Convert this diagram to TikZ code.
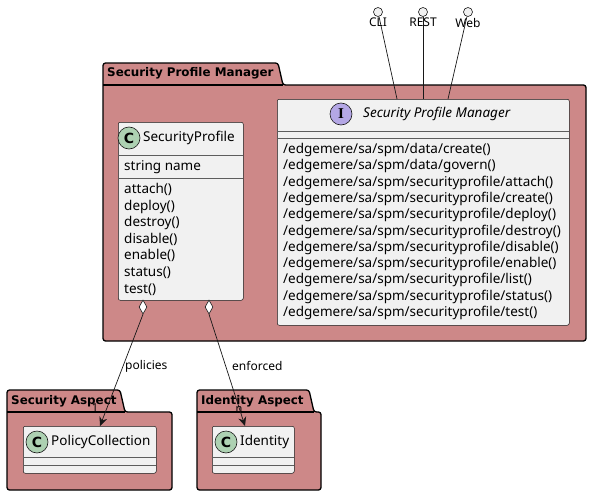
\documentclass[tikz,border=0pt]{standalone}
\usepackage{fontspec}
\setmainfont{Noto Sans}
\newfontfamily\circfont{Liberation Serif}
\newfontfamily\titlefont{DejaVu Sans}
\usetikzlibrary{shapes.geometric,arrows.meta}
\definecolor{pkgfill}{RGB}{205,136,136}
\definecolor{classfill}{RGB}{241,241,241}
\definecolor{classline}{RGB}{24,24,24}
\definecolor{cfill}{RGB}{173,209,178}
\definecolor{ifill}{RGB}{180,167,229}
\begin{document}
\begin{tikzpicture}[x=1pt,y=-1pt,
    pkg/.style={draw=black,fill=pkgfill,line width=1.3pt,rounded corners=2.5pt,line join=round},
    pkgtitle/.style={anchor=west,inner sep=0pt,font=\fontsize{11.9}{14}\selectfont\titlefont\bfseries},
    classbox/.style={draw=classline,fill=classfill,line width=0.5pt,rounded corners=2pt,anchor=north west,inner sep=0pt},
    sepline/.style={draw=classline!70,line width=0.6pt},
    member/.style={anchor=west,inner sep=0pt,text height=9.5pt,text depth=2.5pt,font=\fontsize{13.5}{15}\selectfont},
    small/.style={inner sep=0pt,font=\fontsize{12}{14}\selectfont},
    ccirc/.style={circle,draw=classline,line width=0.6pt,fill=cfill,minimum size=22pt,inner sep=0pt,font=\fontsize{14}{14}\selectfont\titlefont\bfseries},
    icirc/.style={ccirc,fill=ifill,font=\fontsize{15}{15}\selectfont\circfont\bfseries},
    lolli/.style={circle,draw=classline,line width=0.6pt,fill=classfill,minimum size=9pt,inner sep=0pt},
    agg/.style={diamond,draw=classline,line width=0.6pt,fill=white,minimum width=8pt,minimum height=14pt,inner sep=0pt},
    link/.style={draw=classline,line width=0.7pt},
    assoc/.style={link,-{Stealth[length=9pt,width=8pt,inset=3pt]}}]
    \useasboundingbox[fill=white] (0,0) rectangle (591,495);
    %% packages
    \draw[pkg] (103,341) -- (103,63) -- (278,63) -- (283,85) -- (586,85) -- (586,341) -- cycle;
    \draw[pkg] (103,85) -- (283,85);
    \node[pkgtitle] (spmpkg) at (107,73) {Security Profile Manager};
    \draw[pkg] (7,490) -- (7,390) -- (120,390) -- (125,412) -- (172,412) -- (172,490) -- cycle;
    \draw[pkg] (7,412) -- (125,412);
    \node[pkgtitle] (secpkg) at (11,401) {Security Aspect};
    \draw[pkg] (197,490) -- (197,390) -- (309,390) -- (314,412) -- (321,412) -- (321,490) -- cycle;
    \draw[pkg] (197,412) -- (314,412);
    \node[pkgtitle] (idpkg) at (201,401) {Identity Aspect};
    %% interface with its lollipops
    \node[classbox,minimum width=292pt,minimum height=226pt] (spmapi) at (277,99) {};
    \node[icirc] (spmicon) at (341,114) {I};
    \node[member,font=\fontsize{13.5}{15}\selectfont\itshape] (spmname) at (363,114) {Security Profile Manager};
    \draw[sepline] (277,131) -- (569,131);
    \draw[sepline] (277,138) -- (569,138);
    \foreach \m [count=\i from 0] in {data/create(),data/govern(),securityprofile/attach(),
        securityprofile/create(),securityprofile/deploy(),securityprofile/destroy(),
        securityprofile/disable(),securityprofile/enable(),securityprofile/list(),
        securityprofile/status(),securityprofile/test()}
        \node[member] at (283,150+16.3*\i) {/edgemere/sa/spm/\m};
    \node[lolli] (cli) at (378,12) {};
    \node[lolli] (rest) at (423,12) {};
    \node[lolli] (web) at (468,12) {};
    \node[small,anchor=north] at (378,18) {CLI};
    \node[small,anchor=north] at (423,18) {REST};
    \node[small,anchor=north] at (468,18) {Web};
    \coordinate (cliend) at (397,99);
    \coordinate (restend) at (423,99);
    \coordinate (webend) at (448,99);
    \draw[link] (cli) -- (cliend);
    \draw[link] (rest) -- (restend);
    \draw[link] (web) -- (webend);
    %% SecurityProfile
    \node[classbox,minimum width=125pt,minimum height=178pt] (secprof) at (118,122) {};
    \node[ccirc] at (129,138) {C};
    \node[member] at (143,138) {SecurityProfile};
    \draw[sepline] (118,155) -- (243,155);
    \node[member] at (124,167) {string name};
    \draw[sepline] (118,178) -- (243,178);
    \foreach \m [count=\i from 0] in {attach(),deploy(),destroy(),disable(),enable(),status(),test()}
        \node[member] at (124,190+16.6*\i) {\m};
    %% PolicyCollection and Identity
    \node[classbox,minimum width=133pt,minimum height=47pt] (policycoll) at (23,426) {};
    \node[ccirc] at (37,442) {C};
    \node[member] at (51,442) {PolicyCollection};
    \draw[sepline] (23,457) -- (156,457);
    \draw[sepline] (23,465) -- (156,465);
    \node[classbox,minimum width=82pt,minimum height=47pt] (identity) at (212,426) {};
    \node[ccirc] at (226,442) {C};
    \node[member] at (240,442) {Identity};
    \draw[sepline] (212,457) -- (294,457);
    \draw[sepline] (212,465) -- (294,465);
    %% aggregations
    \node[agg] (polagg) at (143,307) {};
    \node[agg] (idagg) at (209,307) {};
    \coordinate (polin) at (100,426);
    \coordinate (idin) at (245,426);
    \draw[assoc] (polagg.south) -- (polin);
    \draw[assoc] (idagg.south) -- (idin);
    \node[small,anchor=west] at (125,366) {policies};
    \node[small,anchor=west] at (232,366) {enforced};
    \node[small,font=\fontsize{11}{12}\selectfont] at (95,408) {1};
    \node[small,font=\fontsize{11}{12}\selectfont] at (239,409) {n};
\end{tikzpicture}
\end{document}
